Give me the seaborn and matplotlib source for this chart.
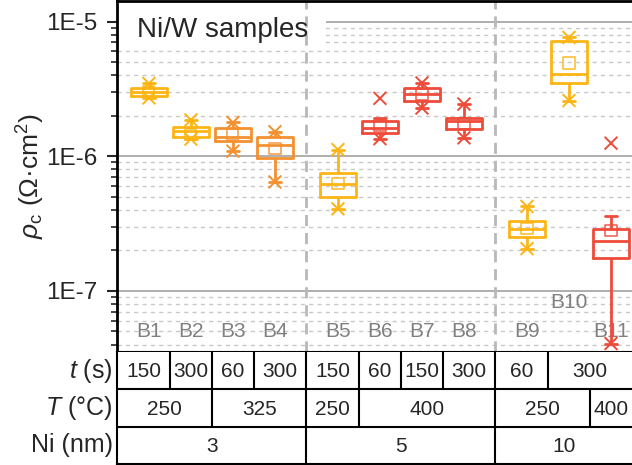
import numpy as np
import pandas as pd
import matplotlib
matplotlib.use('Agg')
import matplotlib.pyplot as plt
import matplotlib.transforms as mtransforms
from matplotlib.patches import Rectangle
from matplotlib.ticker import NullFormatter, LogLocator
import seaborn as sns

# sample info (table below the plot)
samples = ['B1', 'B2', 'B3', 'B4', 'B5', 'B6', 'B7', 'B8', 'B9', 'B10', 'B11']
anneal_time_s = [150, 300, 60, 300, 150, 60, 150, 300, 60, 300, 300]
anneal_temp_c = [250, 250, 325, 325, 250, 400, 400, 400, 250, 250, 400]
ni_thickness_nm = [3, 3, 3, 3, 5, 5, 5, 5, 10, 10, 10]

# contact resistivity box statistics (Ohm cm^2)
rho_whislo = [2.71e-6, 1.34e-6, 1.09e-6, 6.44e-7, 4.07e-7, 1.35e-6, 2.28e-6, 1.37e-6, 2.06e-7, 2.59e-6, 4.07e-8]
rho_q1 = [2.82e-6, 1.40e-6, 1.29e-6, 9.77e-7, 4.97e-7, 1.48e-6, 2.59e-6, 1.60e-6, 2.51e-7, 3.47e-6, 1.77e-7]
rho_med = [3.01e-6, 1.53e-6, 1.38e-6, 1.22e-6, 6.17e-7, 1.61e-6, 2.90e-6, 1.84e-6, 2.90e-7, 4.08e-6, 2.34e-7]
rho_q3 = [3.23e-6, 1.64e-6, 1.62e-6, 1.38e-6, 7.53e-7, 1.84e-6, 3.19e-6, 1.92e-6, 3.30e-7, 7.19e-6, 2.90e-7]
rho_whishi = [3.47e-6, 1.86e-6, 1.78e-6, 1.52e-6, 1.12e-6, 1.92e-6, 3.50e-6, 2.44e-6, 4.24e-7, 7.61e-6, 3.57e-7]
rho_mean = [3.01e-6, 1.46e-6, 1.45e-6, 1.14e-6, 6.31e-7, 1.70e-6, 2.86e-6, 1.76e-6, 2.91e-7, 4.92e-6, 2.82e-7]
rho_max = [3.47e-6, 1.86e-6, 1.78e-6, 1.52e-6, 1.12e-6, 2.69e-6, 3.50e-6, 2.44e-6, 4.24e-7, 7.61e-6, 1.25e-6]

ytick_values = [1e-7, 1e-6, 1e-5]
ytick_labels = ['1E-7', '1E-6', '1E-5']

temp_colors = {250: '#FDB515', 325: '#F39130', 400: '#EE4B3A'}

sns.set_style('white')
plt.rcParams['font.family'] = ['Liberation Sans', 'DejaVu Sans']
plt.rcParams['mathtext.fontset'] = 'custom'
plt.rcParams['mathtext.rm'] = 'Liberation Sans'
plt.rcParams['mathtext.it'] = 'Liberation Sans:italic'

n = len(samples)
group_idx = pd.factorize(pd.Series(ni_thickness_nm))[0]
pos = np.arange(n) + 0.5 * group_idx
colors = [temp_colors[t] for t in anneal_temp_c]
palette = dict(zip(samples, colors))

xlim = (pos[0] - 0.76, pos[-1] + 0.5)
mids = (pos[:-1] + pos[1:]) / 2
edges = np.concatenate([[xlim[0]], mids, [xlim[1]]])

long = pd.DataFrame({
    'pos': np.repeat(pos, 5),
    'rho': np.column_stack([rho_whislo, rho_q1, rho_med, rho_q3, rho_whishi]).ravel(),
    'sample': np.repeat(samples, 5),
})

fig = plt.figure(figsize=(6.32, 4.65), dpi=100)
ax = fig.add_axes([117 / 632, 1 - 352 / 465, 515 / 632, 351 / 465])
ax_t = fig.add_axes([117 / 632, 1 - 464 / 465, 515 / 632, 112 / 465])

ax.set_yscale('log')
sns.boxplot(data=long, x='pos', y='rho', hue='sample', palette=palette,
            native_scale=True, dodge=False, fill=False, whis=(0, 100),
            width=0.85, linewidth=2.0, capwidths=0.28, legend=False,
            orient='x', ax=ax)

# min / max markers and means
sns.scatterplot(x=pos, y=rho_whislo, hue=samples, palette=palette, marker='x',
                s=85, linewidth=1.4, legend=False, ax=ax, zorder=3)
sns.scatterplot(x=pos, y=rho_max, hue=samples, palette=palette, marker='x',
                s=85, linewidth=1.4, legend=False, ax=ax, zorder=3)
ax.scatter(pos, rho_mean, marker='s', s=64, facecolors='none',
           edgecolors=colors, linewidths=1.2, alpha=0.85, zorder=3)

ax.set_xlim(xlim)
ax.set_ylim(3.52e-8, 1.42e-5)
ax.set_yticks(ytick_values, labels=ytick_labels)
ax.yaxis.set_minor_locator(LogLocator(base=10, subs=np.arange(2, 10)))
ax.yaxis.set_minor_formatter(NullFormatter())
ax.tick_params(axis='y', which='major', direction='out', length=7, width=1.5,
               pad=7, labelsize=17.5, left=True)
ax.tick_params(axis='y', which='minor', direction='out', length=4, width=1.2, left=True)
ax.tick_params(axis='x', which='both', bottom=False, labelbottom=False)
ax.set_xlabel('')
ax.set_ylabel(r'$\rho_\mathrm{c}$ (Ω·cm$^2$)', fontsize=19)
ax.yaxis.set_label_coords(-0.136, 0.5)

ax.grid(which='major', axis='y', color='#a8a8a8', lw=1.3)
ax.grid(which='minor', axis='y', color='#c8c8c8', lw=1.0, ls=(0, (3, 3)))
ax.grid(axis='x', visible=False)

for side in ['top', 'left']:
    ax.spines[side].set_color('black')
    ax.spines[side].set_linewidth(2)
ax.spines['bottom'].set_color('black')
ax.spines['bottom'].set_linewidth(1.5)
ax.spines['right'].set_visible(False)

# group separators
for i in range(1, n):
    if ni_thickness_nm[i] != ni_thickness_nm[i - 1]:
        ax.axvline(mids[i - 1], color='#b8b8b8', lw=2, ls=(0, (4, 2.5)), zorder=1.5)

# title box
ax.add_patch(Rectangle((0, 0.872), 0.406, 0.128, transform=ax.transAxes,
                       facecolor='white', edgecolor='none', zorder=1.2))
ax.text(0.039, 0.898, 'Ni/W samples', transform=ax.transAxes, fontsize=20,
        va='baseline', ha='left', zorder=4)

# sample labels
lbl_tr = mtransforms.blended_transform_factory(ax.transData, ax.transAxes)
for p, s in zip(pos, samples):
    y = 0.142 if s == 'B10' else 0.057
    ax.text(p, y, s, transform=lbl_tr, ha='center', va='center',
            fontsize=15, color='#808080', zorder=1.4)

# table
def merged_cells(values):
    cells = []
    start = 0
    for i in range(1, n + 1):
        if i == n or values[i] != values[start]:
            cells.append((values[start], start, i - 1))
            start = i
    return cells

rows = [(r'$t$ (s)', anneal_time_s), (r'$T$ (°C)', anneal_temp_c),
        ('Ni (nm)', ni_thickness_nm)]
ax_t.set_xlim(xlim)
ax_t.set_ylim(len(rows), 0)
ax_t.set_xticks([])
ax_t.set_yticks([])
ax_t.set_facecolor('white')
for side in ['top', 'right']:
    ax_t.spines[side].set_visible(False)
for side in ['left', 'bottom']:
    ax_t.spines[side].set_color('black')
    ax_t.spines[side].set_linewidth(1.5)

row_tr = mtransforms.blended_transform_factory(ax_t.transAxes, ax_t.transData)
for r, (name, vals) in enumerate(rows):
    if r > 0:
        ax_t.axhline(r, color='black', lw=1.5)
    ax_t.text(-0.008, r + 0.5, name, transform=row_tr, ha='right', va='center',
              fontsize=18)
    for val, i0, i1 in merged_cells(vals):
        left, right = edges[i0], edges[i1 + 1]
        if i0 > 0:
            ax_t.plot([left, left], [r, r + 1], color='black', lw=1.5)
        ax_t.text((left + right) / 2, r + 0.53, str(val), ha='center', va='center',
                  fontsize=15)

fig.savefig('out.png', dpi=100)
